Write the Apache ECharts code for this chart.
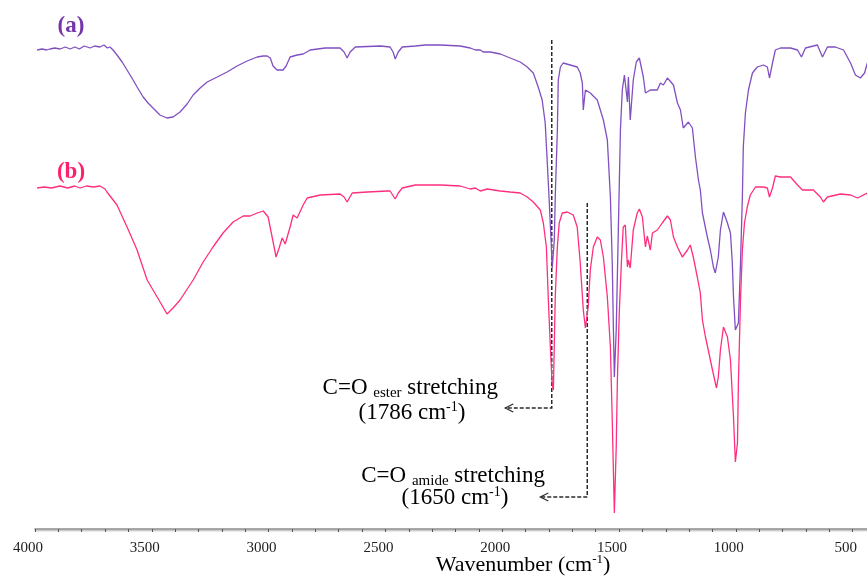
<!DOCTYPE html>
<html>
<head>
<meta charset="utf-8">
<script src="https://cdn.jsdelivr.net/npm/echarts@6/dist/echarts.min.js"></script>
<style>
  html, body { margin: 0; padding: 0; background: #fff; }
  #main { width: 867px; height: 577px; }
</style>
</head>
<body>
<div id="main"></div>
<script>
// spectrum (a): wavenumber (cm-1) and relative transmittance
var waveA = [3991,3970,3950,3936,3915,3893,3870,3850,3829,3810,3790,3764,3745,3722,3705,3690,3679,3666,3649,3627,
  3606,3585,3563,3537,3516,3495,3465,3435,3409,3379,
  3349,3323,3293,3263,3220,3178,3135,3092,3049,3023,3006,2993,2981,2964,2938,2925,2908,2878,2852,2822,
  2758,2694,2677,2664,2651,2629,2522,2480,2467,2458,2445,2428,2372,2330,2265,2180,2137,2115,2094,2081,
  2051,2008,1966,1923,1893,1867,1846,1829,1816,1807,1799,1790,1786,1777,1773,1764,1760,1751,1739,1709,
  1679,1666,1657,1653,1644,1623,1593,1580,1567,1550,1537,1529,1524,1520,1512,1503,1494,1486,1477,1473,
  1464,1460,1452,1439,1426,1413,1396,1387,1366,1336,1323,1310,1293,1267,1250,1237,1225,1203,1186,1173,
  1160,1152,1143,1122,1109,1096,1088,1075,1066,1053,1036,1023,1015,1010,1002,989,980,972,968,959,
  946,929,908,882,865,856,843,831,809,766,736,719,702,651,629,608,574,539,509,488,467,449,437];
var transA = [479,480,479,480,481,480,482,480,482,480,483,481,483,482,484,481,482,479,474,467,
  459,451,442,432,426,421,414,411,412,417,
  425,434,441,447,452,457,463,468,472,473,473,471,463,459,459,463,472,474,475,479,
  481,481,477,471,477,482,483,482,477,470,477,482,483,484,484,483,481,479,479,477,
  477,475,471,467,462,456,442,429,406,366,329,284,261,289,332,399,449,462,466,464,
  462,456,446,419,439,436,429,419,409,389,332,266,199,152,199,299,399,439,454,456,
  427,452,409,449,467,471,452,436,439,439,446,444,451,444,426,419,401,407,401,372,
  349,339,316,292,279,262,256,272,299,317,306,296,266,232,199,206,266,332,382,416,
  439,456,462,464,462,451,466,479,481,481,479,472,481,484,472,482,482,479,466,454,451,456,466];

// spectrum (b)
var waveB = [3991,3960,3930,3893,3860,3830,3807,3780,3750,3722,3700,3692,3649,3606,3563,3520,3477,
  3435,3409,3379,3323,3280,3238,3195,3152,3109,3079,
  3049,3023,3002,2985,2968,2955,2942,2929,2908,2895,2878,2852,2835,2779,2694,2677,2664,2642,2578,2492,
  2480,2458,2445,2428,2372,2265,2180,2137,2115,2094,2064,2008,1966,1923,1893,1867,1837,1824,1811,1803,
  1794,1786,1781,1773,1764,1756,1743,1721,1696,1679,1666,1653,1644,1632,1623,1610,1593,1580,1567,1550,
  1537,1529,1520,1512,1507,1499,1490,1482,1473,1464,1460,1452,1439,1422,1413,1400,1387,1379,1366,1357,
  1336,1315,1293,1280,1267,1250,1229,1207,1195,1182,1165,1152,1143,1130,1118,1100,1083,1075,1066,1053,
  1036,1023,1010,1002,993,989,980,972,963,951,938,916,882,865,856,843,831,809,766,736,
  715,694,668,638,625,608,552,509,479,437];
var transB = [341,342,341,343,341,343,341,343,342,343,340,337,324,302,279,249,232,
  215,221,229,249,267,282,296,307,313,313,
  316,318,312,292,272,281,291,285,302,314,311,324,331,334,335,332,327,336,337,338,
  338,330,336,341,344,344,343,340,341,338,340,338,337,336,332,327,319,306,282,232,
  182,144,139,232,282,306,316,317,314,302,266,219,201,222,259,282,292,289,272,232,
  182,109,16,82,149,216,266,302,304,262,269,261,299,316,320,312,282,293,279,296,
  299,306,313,309,292,282,272,279,284,272,252,236,209,192,179,159,141,152,179,202,
  192,169,112,67,86,146,229,279,306,322,334,342,342,341,332,341,353,352,352,344,
  339,339,339,332,327,332,335,334,331,336];

// dashed guides for the two carbonyl bands: [wavenumber, transmittance]
var esterGuide = [[1788, 489], [1788, 121], [1987, 121]];
var amideGuide = [[1636, 326], [1636, 32], [1837, 32]];

var purple = '#8050c0';
var pink = '#ff2e7e';
var serif = '"Liberation Serif", "Times New Roman", serif';

function zip(xs, ys) {
    return xs.map(function (x, i) { return [x, ys[i]]; });
}

var chart = echarts.init(document.getElementById('main'));

var option = {
    animation: false,
    grid: { left: 35, top: 0, width: 841, height: 529, outerBoundsMode: 'none' },
    xAxis: {
        type: 'value',
        inverse: true,
        min: 400,
        max: 4000,
        interval: 100,
        splitLine: { show: false },
        axisLine: {
            lineStyle: { color: '#8c8c8c', width: 1.5, shadowColor: 'rgba(0,0,0,0.25)', shadowOffsetY: 1.5, shadowBlur: 1 }
        },
        axisTick: { length: 3, lineStyle: { color: '#555' } },
        axisLabel: {
            margin: 12,
            fontFamily: serif,
            fontSize: 15,
            color: '#222',
            padding: [0, 14, 0, 0],
            formatter: function (v) { return v % 500 === 0 ? String(v) : ''; }
        }
    },
    yAxis: { type: 'value', min: 0, max: 529, show: false },
    series: [
        {
            name: '(a)', type: 'line', showSymbol: false,
            lineStyle: { color: purple, width: 1.3 },
            data: zip(waveA, transA)
        },
        {
            name: '(b)', type: 'line', showSymbol: false,
            lineStyle: { color: pink, width: 1.3 },
            data: zip(waveB, transB)
        }
    ]
};
chart.setOption(option);

// annotation lines, placed through the chart's own scales
function guideLines(pts) {
    var px = pts.map(function (p) { return chart.convertToPixel({ gridIndex: 0 }, p); });
    var tip = px[px.length - 1];
    return [
        {
            type: 'polyline', silent: true,
            shape: { points: px },
            style: { stroke: '#2a2a2a', lineWidth: 1.5, lineDash: [4, 2], fill: null }
        },
        {
            type: 'polyline', silent: true,
            shape: { points: [[tip[0] + 8, tip[1] - 4], [tip[0], tip[1]], [tip[0] + 8, tip[1] + 4]] },
            style: { stroke: '#2a2a2a', lineWidth: 1.2, fill: null }
        }
    ];
}

var rich = {
    m: { fontFamily: serif, fontSize: 23, color: '#111', lineHeight: 26 },
    s: { fontFamily: serif, fontSize: 15, color: '#111', lineHeight: 26, verticalAlign: 'bottom' },
    u: { fontFamily: serif, fontSize: 14, color: '#111', lineHeight: 26, verticalAlign: 'top' }
};

function label(txt, x, y, align, size, color, weight) {
    return {
        type: 'text', silent: true,
        style: {
            text: txt, x: x, y: y, align: align, verticalAlign: 'middle',
            fontFamily: serif, fontSize: size, fill: color, fontWeight: weight || 'normal'
        }
    };
}

function richLabel(txt, x, y, align) {
    return {
        type: 'text', silent: true,
        style: { text: txt, x: x, y: y, align: align, verticalAlign: 'middle', rich: rich }
    };
}

var graphics = [].concat(
    guideLines(esterGuide),
    guideLines(amideGuide),
    [
        label('(a)', 71, 26, 'center', 23, '#7434aa', 'bold'),
        label('(b)', 71, 172, 'center', 23, '#ff1f6f', 'bold'),
        richLabel('{m|C=O }{s|ester}{m| stretching}', 498, 388, 'right'),
        richLabel('{m|(1786 cm}{u|-1}{m|)}', 412, 413, 'center'),
        richLabel('{m|C=O }{s|amide}{m| stretching}', 545, 476, 'right'),
        richLabel('{m|(1650 cm}{u|-1}{m|)}', 455, 498, 'center'),
        {
            type: 'text', silent: true,
            style: {
                text: '{t|Wavenumber (cm}{p|-1}{t|)}', x: 523, y: 565, align: 'center', verticalAlign: 'middle',
                rich: {
                    t: { fontFamily: serif, fontSize: 22, color: '#111', lineHeight: 24 },
                    p: { fontFamily: serif, fontSize: 13, color: '#111', lineHeight: 24, verticalAlign: 'top' }
                }
            }
        }
    ]
);
chart.setOption({ graphic: graphics });
</script>
</body>
</html>
